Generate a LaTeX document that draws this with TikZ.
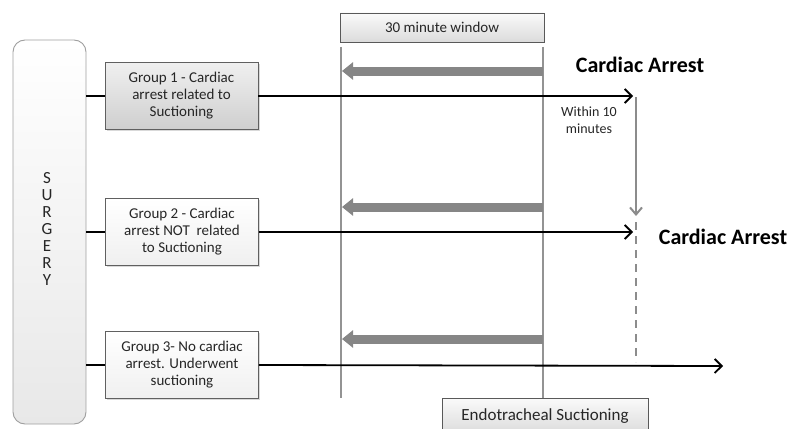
\documentclass[tikz,border=0pt]{standalone}
\usepackage{fontspec}
\setmainfont{Carlito}
\usetikzlibrary{arrows.meta,positioning,shadows}

\tikzset{
  surgbox/.style={draw=gray!75, line width=0.9pt, rounded corners=12pt,
    top color=white, bottom color=gray!18},
  grpbox/.style={draw=gray!75!black, line width=0.8pt, minimum width=153pt,
    minimum height=67pt, align=center, inner sep=2pt, text=black!85,
    font=\fontsize{15}{17}\selectfont, top color=white, bottom color=gray!12,
    drop shadow={opacity=0.3, shadow xshift=1.5pt, shadow yshift=-1.5pt}},
  darkgrp/.style={top color=gray!12, bottom color=gray!38},
  timebox/.style={draw=gray!70!black, line width=0.8pt, inner sep=0pt,
    top color=gray!4, bottom color=gray!28, text=black!85},
  vline/.style={draw=gray!85, line width=2pt},
  flow/.style={draw=black, line width=1.8pt,
    -{Straight Barb[length=7pt,width=14pt,line width=1.8pt]}},
  backarr/.style={draw=gray!95, line width=9pt,
    -{Triangle[length=11pt,width=17pt]}},
  catext/.style={font=\fontsize{22}{24}\selectfont\bfseries}
}

\begin{document}
\begin{tikzpicture}[x=1pt,y=-1pt]
  \path[use as bounding box, clip] (0,0) rectangle (794,428);

  % surgery column
  \node[surgbox, minimum width=73pt, minimum height=384pt] (surgery) at (49.5,232) {};
  \node[font=\fontsize{17}{17}\selectfont, align=center, text=black!85] (surgtxt)
    at (47,229) {S\\U\\R\\G\\E\\R\\Y};

  % the three groups
  \node[grpbox, darkgrp] (g1) at (181.5,96) {Group 1 - Cardiac\\arrest related to\\Suctioning};
  \node[grpbox] (g2) at (182,232) {Group 2 - Cardiac\\arrest NOT\ \ related\\to Suctioning};
  \node[grpbox] (g3) at (182,365) {Group 3- No cardiac\\arrest. Underwent\\suctioning};

  % window boxes
  \node[timebox, minimum width=204pt, minimum height=29pt,
    font=\fontsize{15}{17}\selectfont] (window) at (442,27.5) {30 minute window};
  \node[timebox, minimum width=206pt, minimum height=36pt,
    font=\fontsize{17}{19}\selectfont] (suction) at (545,416) {Endotracheal Suctioning};

  % window edges
  \coordinate (lt) at (341,47);
  \coordinate (lb) at (341,398);
  \coordinate (rt) at (543,47);
  \draw[vline] (lt) -- (lb);
  \draw[vline] (rt) -- (rt |- suction.north);

  % backward arrows
  \foreach \y/\n in {71/a, 207/b, 339/c} {
    \coordinate (s\n) at (543,\y);
    \coordinate (t\n) at (342,\y);
    \draw[backarr] (s\n) -- (t\n);
  }

  % timelines
  \coordinate (e1) at (633,96);
  \coordinate (e2) at (633,232);
  \coordinate (e3) at (723,366);
  \draw[line width=1.8pt] (surgery.east |- g1.west) -- (g1.west);
  \draw[line width=1.8pt] (surgery.east |- g2.west) -- (g2.west);
  \draw[line width=1.8pt] (surgery.east |- g3.west) -- (g3.west);
  \draw[flow] (g1.east) -- (e1);
  \draw[flow] (g2.east) -- (e2);
  \draw[flow] (g3.east) -- (e3);

  % cardiac arrest events
  \node[catext] (ca1) at (640,65) {Cardiac Arrest};
  \node[catext] (ca2) at (723,237) {Cardiac Arrest};
  \node[font=\fontsize{14}{17}\selectfont, align=center, text=black!85] (within)
    at (589,120) {Within 10\\minutes};

  \coordinate (d1) at (636,97);
  \coordinate (d2) at (636,216);
  \coordinate (d3) at (636,222);
  \coordinate (d4) at (636,362);
  \draw[gray!90, line width=2pt,
    -{Straight Barb[length=7pt,width=12pt,line width=2pt]}] (d1) -- (d2);
  \draw[gray!90, line width=2pt, dash pattern=on 8pt off 6pt] (d3) -- (d4);
\end{tikzpicture}
\end{document}
